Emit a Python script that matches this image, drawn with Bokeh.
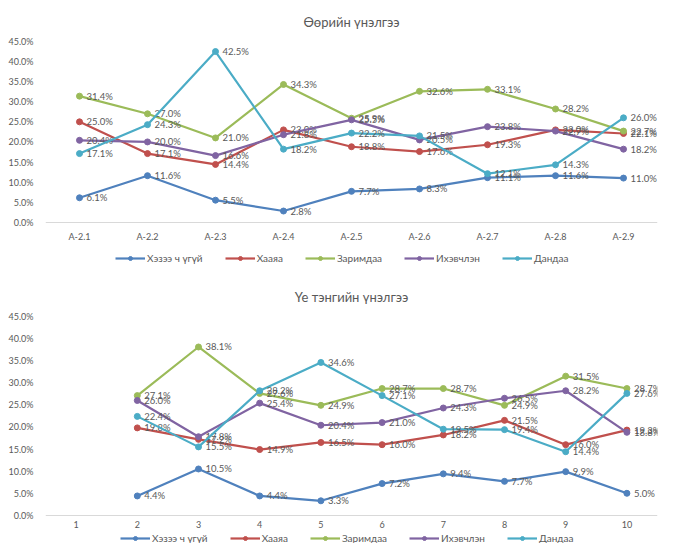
from bokeh.plotting import figure
from bokeh.models import ColumnDataSource, FactorRange, Range1d, Legend, LegendItem, FixedTicker
from bokeh.layouts import column
from bokeh.embed import file_html
from bokeh.resources import INLINE
from bokeh.core.properties import value

nan = float("nan")

series_names = ["Хэзээ ч үгүй", "Хааяа", "Заримдаа", "Ихэвчлэн", "Дандаа"]
colors = ["#4F81BD", "#C0504D", "#9BBB59", "#8064A2", "#4BACC6"]

title1 = "Өөрийн үнэлгээ"
cats1 = ["A-2.1", "A-2.2", "A-2.3", "A-2.4", "A-2.5", "A-2.6", "A-2.7", "A-2.8", "A-2.9"]
never1 = [6.1, 11.6, 5.5, 2.8, 7.7, 8.3, 11.1, 11.6, 11.0]
sometimes1 = [25.0, 17.1, 14.4, 23.0, 18.8, 17.6, 19.3, 23.0, 22.1]
occasionally1 = [31.4, 27.0, 21.0, 34.3, 25.9, 32.6, 33.1, 28.2, 22.7]
usually1 = [20.4, 20.0, 16.6, 21.8, 25.5, 20.5, 23.8, 22.7, 18.2]
always1 = [17.1, 24.3, 42.5, 18.2, 22.2, 21.5, 12.1, 14.3, 26.0]

title2 = "Үе тэнгийн үнэлгээ"
cats2 = ["1", "2", "3", "4", "5", "6", "7", "8", "9", "10"]
never2 = [nan, 4.4, 10.5, 4.4, 3.3, 7.2, 9.4, 7.7, 9.9, 5.0]
sometimes2 = [nan, 19.8, 17.2, 14.9, 16.5, 16.0, 18.2, 21.5, 16.0, 19.3]
occasionally2 = [nan, 27.1, 38.1, 27.6, 24.9, 28.7, 28.7, 24.9, 31.5, 28.7]
usually2 = [nan, 26.0, 17.8, 25.4, 20.4, 21.0, 24.3, 26.5, 28.2, 18.8]
always2 = [nan, 22.4, 15.5, 28.2, 34.6, 27.1, 19.5, 19.4, 14.4, 27.6]

y_ticks = [0, 5, 10, 15, 20, 25, 30, 35, 40, 45]
y_max = 45

FONT = "Lato"
GRAY = "#595959"


def make_chart(title, cats, series, height, border_left, border_right, y_min,
               title_standoff, x_standoff, legend_loc):
    # the frame reaches below 0 so that the category labels and the legend live inside it
    p = figure(width=660, height=height, output_backend="svg", toolbar_location=None,
               x_range=FactorRange(*cats), y_range=Range1d(y_min, y_max),
               min_border_left=border_left, min_border_right=border_right,
               min_border_top=0, min_border_bottom=0,
               outline_line_color=None)
    p.title.text = title
    p.title.align = "center"
    p.title.text_font = FONT
    p.title.text_font_size = "13px"
    p.title.text_font_style = "normal"
    p.title.text_color = GRAY
    p.title.standoff = title_standoff
    p.xgrid.grid_line_color = None
    p.ygrid.grid_line_color = None

    for ax in (p.xaxis, p.yaxis):
        ax.major_tick_line_color = None
        ax.minor_tick_line_color = None
        ax.major_tick_out = 0
        ax.major_tick_in = 0
        ax.minor_tick_out = 0
        ax.minor_tick_in = 0
        ax.major_label_text_font = FONT
        ax.major_label_text_font_size = "9px"
        ax.major_label_text_color = GRAY
    p.yaxis.ticker = FixedTicker(ticks=y_ticks)
    p.yaxis.major_label_overrides = {t: f"{t:.1f}%" for t in y_ticks}
    p.yaxis.axis_line_color = None
    p.yaxis.major_label_standoff = 12
    p.xaxis.fixed_location = 0
    p.xaxis.axis_line_color = "#D9D9D9"
    p.xaxis.major_label_standoff = x_standoff

    items = []
    for name, vals, col in zip(series_names, series, colors):
        xs = [c for c, v in zip(cats, vals) if v == v]
        ys = [v for v in vals if v == v]
        src = ColumnDataSource(dict(x=xs, y=ys, t=[f"{v:.1f}%" for v in ys]))
        ln = p.line("x", "y", source=src, line_color=col, line_width=2.2)
        sc = p.scatter("x", "y", source=src, size=6, fill_color=col, line_color=col)
        p.text("x", "y", text="t", source=src, x_offset=7, text_baseline="middle",
               text_font=value(FONT), text_font_size="9.5px", text_color=GRAY)
        items.append(LegendItem(label=name, renderers=[ln, sc]))

    lg = Legend(items=items, orientation="horizontal", location=legend_loc,
                label_text_font=FONT, label_text_font_size="10px", label_text_color=GRAY,
                glyph_width=30, glyph_height=10, label_standoff=2, spacing=22,
                padding=0, margin=0, border_line_color=None,
                background_fill_alpha=0, label_height=10)
    p.add_layout(lg)
    return p


p1 = make_chart(title1, cats1, [never1, sometimes1, occasionally1, usually1, always1],
                height=275, border_left=44, border_right=0, y_min=-13.25,
                title_standoff=23, x_standoff=9, legend_loc=(70, 11))
p2 = make_chart(title2, cats2, [never2, sometimes2, occasionally2, usually2, always2],
                height=268, border_left=45, border_right=3, y_min=-6.36,
                title_standoff=23, x_standoff=6, legend_loc=(75, -1))

layout = column(p1, p2, spacing=0)
open("out.html", "w").write(file_html(layout, INLINE))
